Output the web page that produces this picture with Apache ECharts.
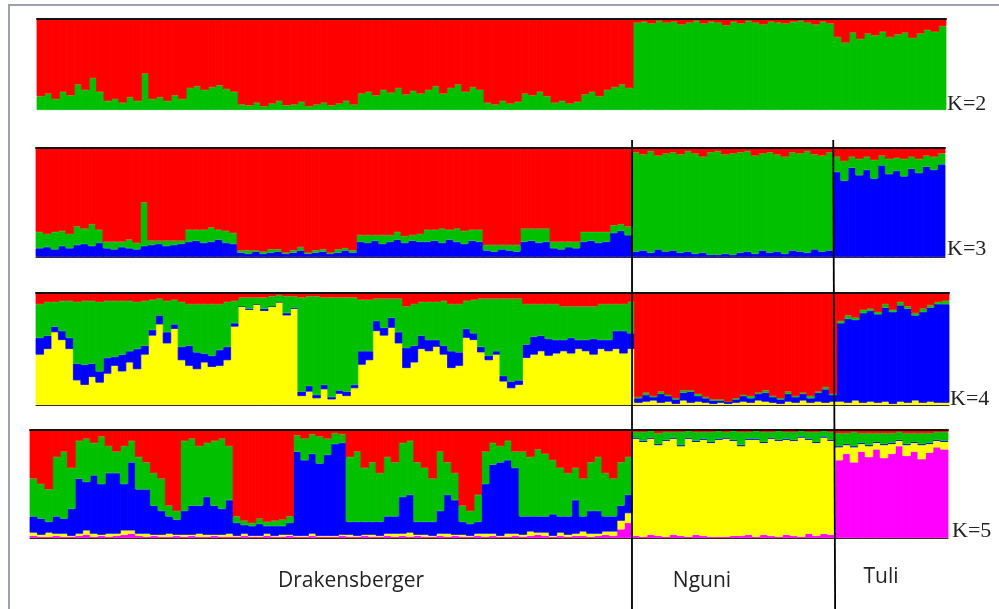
<!DOCTYPE html>
<html><head><meta charset="utf-8">
<script src="https://cdn.jsdelivr.net/npm/echarts/dist/echarts.min.js"></script>
<style>html,body{margin:0;padding:0;background:#fff;overflow:hidden}#c{width:999px;height:609px}</style>
</head><body><div id="c"></div><script>
// ---- groups / individuals ----
const groups = ['Drakensberger', 'Nguni', 'Tuli'];
const groupSizes = [80, 27, 15];
const kLabels = ['K=2', 'K=3', 'K=4', 'K=5'];

// ---- ancestry proportions (%), order: Drakensberger(80) | Nguni(27) | Tuli(15) ----
// K=2 (bottom -> top: green, red)
const k2_green = [15,18,12,20,16,28,22,35,20,10,12,8,14,10,40,12,14,10,16,12,24,26,22,25,27,23,20,6,5,8,4,7,10,5,6,9,4,6,8,5,7,10,6,18,20,16,22,19,24,17,21,18,22,26,18,24,28,20,25,22,8,6,10,7,9,18,16,20,15,8,10,7,9,17,20,15,22,25,28,24,
  96,97,95,98,96,97,94,96,98,95,97,96,93,97,95,98,96,94,97,96,95,97,98,96,94,97,95,
  80,74,85,78,84,82,86,80,83,85,79,84,88,86,92];
const k2_red = [85,82,88,80,84,72,78,65,80,90,88,92,86,90,60,88,86,90,84,88,76,74,78,75,73,77,80,94,95,92,96,93,90,95,94,91,96,94,92,95,93,90,94,82,80,84,78,81,76,83,79,82,78,74,82,76,72,80,75,78,92,94,90,93,91,82,84,80,85,92,90,93,91,83,80,85,78,75,72,76,
  4,3,5,2,4,3,6,4,2,5,3,4,7,3,5,2,4,6,3,4,5,3,2,4,6,3,5,
  20,26,15,22,16,18,14,20,17,15,21,16,12,14,8];
// K=3 (bottom -> top: blue, green, red)
const k3_blue = [8,9,7,10,8,11,12,10,13,8,7,9,8,7,10,11,12,10,11,12,14,15,13,14,16,13,12,4,3,5,3,4,5,3,4,6,3,4,5,3,4,6,4,14,13,15,12,14,16,13,15,14,14,15,13,16,14,12,15,14,6,5,7,6,5,14,15,13,14,8,7,9,8,14,15,13,14,22,24,20,
  5,6,4,7,5,6,4,5,3,4,2,2,3,2,4,5,3,6,4,5,3,6,5,4,7,5,6,
  78,70,82,75,80,72,84,76,79,74,81,77,83,80,85];
const k3_green = [15,12,16,14,13,17,14,20,12,6,7,5,8,6,40,4,3,5,4,3,11,10,12,13,9,11,10,2,3,1,2,3,2,1,2,3,1,2,2,1,3,2,2,6,7,5,8,6,7,6,5,7,11,10,13,9,12,12,10,11,5,6,4,5,6,12,11,13,12,6,7,5,6,9,8,10,9,7,6,8,
  91,88,93,86,90,90,90,92,92,88,94,95,91,93,92,92,90,89,92,89,89,90,90,93,87,88,90,
  14,18,10,15,12,17,9,14,12,16,11,13,10,12,10];
const k3_red = [77,79,77,76,79,72,74,70,75,86,86,86,84,87,50,85,85,85,85,85,75,75,75,73,75,76,78,94,94,94,95,93,93,96,94,91,96,94,93,96,93,92,94,80,80,80,80,80,77,81,80,79,75,75,74,75,74,76,75,75,89,89,89,89,89,74,74,74,74,86,86,86,86,77,77,77,77,71,70,72,
  4,6,3,7,5,4,6,3,5,8,4,3,6,5,4,3,7,5,4,6,8,4,5,3,6,7,4,
  8,12,8,10,8,11,7,10,9,10,8,10,7,8,5];
// K=4 (bottom -> top: yellow, blue, green, red)
const k4_yellow = [45,50,65,58,50,22,18,25,20,28,35,30,38,32,45,62,72,55,68,40,35,32,38,34,35,40,70,88,85,90,84,88,92,80,86,8,12,6,14,5,10,8,15,36,40,66,62,69,55,33,38,50,48,52,45,33,35,60,58,47,40,45,21,15,18,42,45,48,44,46,48,46,50,48,45,50,48,50,46,50,
  2,3,4,2,3,1,4,2,3,2,1,2,1,2,3,2,4,3,2,1,3,2,4,2,3,2,3,
  3,2,4,2,3,2,3,1,3,2,4,2,3,2,2];
const k4_blue = [15,12,5,8,10,15,18,12,10,14,8,15,10,18,8,5,8,10,4,12,18,15,8,10,14,12,3,0,1,0,2,0,0,2,1,4,5,3,4,2,3,4,3,12,8,9,7,9,10,18,15,12,10,6,8,15,12,8,6,5,4,3,5,6,4,12,16,14,15,12,10,14,8,10,14,8,10,16,20,14,
  4,6,3,8,5,4,7,10,5,4,3,2,2,3,5,4,6,8,5,4,7,5,6,4,8,12,6,
  70,75,72,80,81,79,84,82,86,84,76,81,84,88,88];
const k4_green = [30,30,22,27,33,55,57,56,62,51,50,48,45,42,40,27,15,28,22,40,37,43,44,46,41,40,20,8,10,6,10,9,6,15,10,84,80,88,78,89,83,84,78,46,46,20,26,17,30,37,37,30,34,34,40,42,43,25,30,43,51,47,69,74,73,36,29,28,31,32,30,28,30,30,29,32,32,24,24,28,
  1,2,1,2,1,1,2,1,2,1,1,1,0,1,1,2,1,2,1,1,2,1,1,2,1,2,1,
  2,3,2,3,2,2,3,2,3,2,2,3,2,2,3];
const k4_red = [10,8,8,7,7,8,7,7,8,7,7,7,7,8,7,6,5,7,6,8,10,10,10,10,10,8,7,4,4,4,4,3,2,3,3,4,3,3,4,4,4,4,4,6,6,5,5,5,5,12,10,8,8,8,7,10,10,7,6,5,5,5,5,5,5,10,10,10,10,10,12,12,12,12,12,10,10,10,10,8,
  93,89,92,88,91,94,87,87,90,93,95,95,97,94,91,92,89,87,92,94,88,92,89,92,88,84,90,
  25,20,22,15,14,17,10,15,8,12,18,14,11,8,7];
// K=5 (bottom -> top: magenta, yellow, blue, green, red)
const k5_magenta = [2,1,1,2,1,1,2,3,1,2,1,2,3,4,2,1,2,1,1,2,1,2,1,1,2,1,1,1,2,1,1,2,1,1,2,1,1,2,1,1,1,2,1,1,2,1,1,2,1,2,1,2,1,1,2,1,2,1,1,2,1,2,1,1,2,1,2,3,2,1,2,1,2,2,1,2,3,2,8,14,
  2,1,3,2,1,3,2,1,3,2,1,1,1,2,2,3,1,3,2,1,3,2,1,4,2,4,3,
  72,78,70,80,75,82,74,78,85,76,80,73,79,84,82];
const k5_yellow = [3,2,4,2,3,1,2,4,3,1,3,2,4,3,2,3,1,2,3,1,2,1,3,2,1,2,3,1,2,1,1,2,1,2,1,1,1,2,1,1,1,1,2,1,1,2,1,2,3,2,4,1,2,1,2,3,1,2,1,2,3,2,1,3,2,2,4,2,3,1,3,2,2,4,3,2,3,4,8,9,
  90,88,89,84,89,89,83,91,86,89,87,90,91,88,83,88,90,85,90,89,88,88,92,87,86,89,87,
  12,8,14,7,10,6,12,9,5,10,8,13,8,6,7];
const k5_blue = [15,15,10,16,14,25,51,45,54,47,56,56,43,63,41,41,27,22,16,14,22,27,26,35,27,24,31,12,8,9,11,7,9,8,11,78,70,74,67,75,85,85,12,13,12,12,13,16,16,34,35,12,12,13,21,36,32,12,11,11,46,64,68,68,61,17,14,15,15,20,15,17,31,14,21,21,14,14,14,17,
  1,1,1,1,1,1,1,1,1,1,1,1,1,1,1,1,1,1,1,1,1,1,1,1,1,1,1,
  1,1,1,1,1,1,1,1,1,1,1,1,1,1,1];
const k5_green = [35,32,30,55,62,38,35,40,30,44,25,20,35,20,30,25,30,30,10,8,65,62,55,50,60,65,50,6,4,3,5,4,5,6,6,15,20,18,25,15,10,8,60,65,50,55,45,55,50,50,50,55,50,40,55,30,25,15,12,25,30,20,15,18,15,60,55,62,58,50,45,40,30,35,45,50,40,35,40,35,
  5,8,6,10,7,5,12,6,8,6,9,7,5,8,12,6,7,9,5,8,6,7,5,6,9,5,7,
  12,10,13,9,11,8,10,9,7,10,8,10,9,7,8];
const k5_red = [45,50,55,25,20,35,10,8,12,6,15,20,15,10,25,30,40,45,70,75,10,8,15,12,10,8,15,80,84,86,82,85,84,83,80,5,8,4,6,8,3,4,25,20,35,30,40,25,30,12,10,30,35,45,20,30,40,70,75,60,20,12,15,10,20,20,25,18,22,28,35,40,35,45,30,25,40,45,30,25,
  2,2,1,3,2,2,2,1,2,2,2,1,2,1,2,2,1,2,2,1,2,2,1,2,2,1,2,
  3,3,2,3,3,3,3,3,2,3,3,3,3,2,2];

// ---- build ----
const individuals = [];
groups.forEach((g, gi) => { for (let n = 1; n <= groupSizes[gi]; n++) individuals.push(g + ' ' + n); });

const C = { red:'#ff0000', green:'#00c000', blue:'#0000ff', yellow:'#ffff00', magenta:'#ff00ff' };
const panels = [
  { clusters: [[k2_green, C.green], [k2_red, C.red]] },
  { clusters: [[k3_blue, C.blue], [k3_green, C.green], [k3_red, C.red]] },
  { clusters: [[k4_yellow, C.yellow], [k4_blue, C.blue], [k4_green, C.green], [k4_red, C.red]] },
  { clusters: [[k5_magenta, C.magenta], [k5_yellow, C.yellow], [k5_blue, C.blue], [k5_green, C.green], [k5_red, C.red]] }
];
const gridBoxes = [
  { left: 37, right: 53, top: 19, height: 91 },
  { left: 36, right: 54, top: 148, height: 109 },
  { left: 36, right: 50, top: 293, height: 112 },
  { left: 30, right: 51, top: 430, height: 108 }
];

const grid = [], xAxis = [], yAxis = [], series = [];
panels.forEach((p, pi) => {
  grid.push(Object.assign({ containLabel: false }, gridBoxes[pi]));
  yAxis.push({ gridIndex: pi, type: 'value', min: 0, max: 100, show: false });
  xAxis.push({ gridIndex: pi, type: 'category', data: individuals, position: 'bottom', z: 10,
    axisLine: { show: pi > 0, lineStyle: { color: '#3a2a1a', width: 1.2 } },
    axisTick: { show: false }, axisLabel: { show: false }, splitLine: { show: false } });
  p.clusters.forEach(([arr, col]) => {
    series.push({ type: 'bar', xAxisIndex: pi, yAxisIndex: pi, stack: 'K' + pi, data: arr,
      barWidth: '112%', silent: true,
      itemStyle: { color: col, borderColor: col, borderWidth: 0.8 } });
  });
});
panels.forEach((p, pi) => {
  xAxis.push({ gridIndex: pi, type: 'category', data: individuals, position: 'top', z: 10,
    axisLine: { show: true, lineStyle: { color: '#111', width: 2 } },
    axisTick: { show: false }, axisLabel: { show: false }, splitLine: { show: false } });
});

const chart = echarts.init(document.getElementById('c'), null, { renderer: 'canvas' });
chart.setOption({ animation: false, backgroundColor: '#fff', grid, xAxis, yAxis, series });

// divider lines at group boundaries, from axis geometry
function boundary(axisIdx, i) {
  const a = chart.convertToPixel({ xAxisIndex: axisIdx }, individuals[i - 1]);
  const b = chart.convertToPixel({ xAxisIndex: axisIdx }, individuals[i]);
  return (a + b) / 2;
}
const b1 = groupSizes[0], b2 = groupSizes[0] + groupSizes[1];
const kPos = [[947, 104], [947, 249], [950, 399], [952, 531]];
const graphic = [
  { type: 'rect', shape: { x: 9, y: 5, width: 1010, height: 640 }, style: { fill: 'none', stroke: '#9ba1b0', lineWidth: 2 }, z: 100 },
  { type: 'line', shape: { x1: boundary(1, b1), y1: 140, x2: boundary(3, b1), y2: 609 }, style: { stroke: '#000', lineWidth: 1.8 }, z: 100 },
  { type: 'line', shape: { x1: boundary(1, b2), y1: 140, x2: boundary(3, b2), y2: 609 }, style: { stroke: '#000', lineWidth: 1.8 }, z: 100 }
];
kLabels.forEach((t, i) => graphic.push({ type: 'text', x: kPos[i][0], y: kPos[i][1], z: 100,
  style: { text: t, font: '22px "Liberation Serif"', fill: '#222', textAlign: 'left', textVerticalAlign: 'middle' } }));
const gx = [351, 702, 881];
groups.forEach((g, i) => graphic.push({ type: 'text', x: gx[i], y: i === 2 ? 577 : 581, z: 100,
  style: { text: g, font: '21px "Open Sans"', fill: '#222', textAlign: 'center', textVerticalAlign: 'middle' } }));
chart.setOption({ graphic });
</script></body></html>
